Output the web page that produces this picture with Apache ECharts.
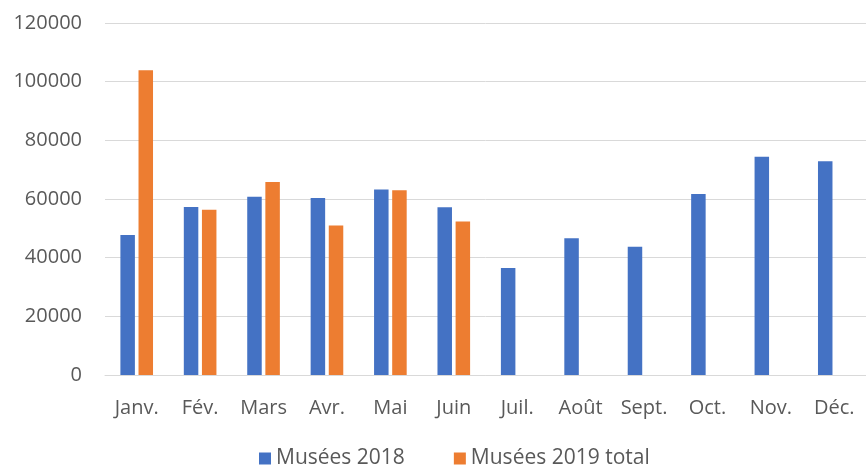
<!DOCTYPE html>
<html>
<head>
<meta charset="utf-8">
<script src="https://cdn.jsdelivr.net/npm/echarts@6/dist/echarts.min.js"></script>
<style>
html,body{margin:0;padding:0;background:#fff;}
#chart{width:866px;height:467px;}
</style>
</head>
<body>
<div id="chart"></div>
<script>
const months = ['Janv.','Fév.','Mars','Avr.','Mai','Juin','Juil.','Août','Sept.','Oct.','Nov.','Déc.'];
const musees2018 = [47700,57300,60800,60300,63200,57200,36500,46600,43700,61700,74400,72900];
const musees2019 = [103900,56300,65800,51000,63000,52300,null,null,null,null,null,null];

let myChart = echarts.init(document.getElementById('chart'));
let font = '"Open Sans", sans-serif';
let option = {
    animation: false,
    grid: {left: 105, right: 0, top: 23, bottom: 92},
    legend: {
        top: 443,
        left: 254,
        itemWidth: 12,
        itemHeight: 12,
        itemGap: 49,
        icon: 'rect',
        textStyle: {fontFamily: font, fontSize: 21, color: '#595959'},
        data: ['Musées 2018', 'Musées 2019 total']
    },
    xAxis: {
        type: 'category',
        data: months,
        axisLine: {lineStyle: {color: '#d9d9d9'}},
        axisTick: {show: false},
        axisLabel: {fontFamily: font, fontSize: 20, color: '#595959', margin: 23}
    },
    yAxis: {
        type: 'value',
        min: 0,
        max: 120000,
        interval: 20000,
        axisLine: {show: false},
        axisTick: {show: false},
        splitLine: {lineStyle: {color: '#d9d9d9', width: 1}},
        axisLabel: {fontFamily: font, fontSize: 20, color: '#595959', margin: 23,
            formatter: v => String(v)}
    },
    series: [
        {
            name: 'Musées 2018',
            type: 'bar',
            data: musees2018,
            barWidth: 14.5,
            barGap: '25%',
            itemStyle: {color: '#4472c4'}
        },
        {
            name: 'Musées 2019 total',
            type: 'bar',
            data: musees2019,
            barWidth: 14.5,
            barGap: '25%',
            itemStyle: {color: '#ed7d31'}
        }
    ]
};
myChart.setOption(option);
</script>
</body>
</html>
